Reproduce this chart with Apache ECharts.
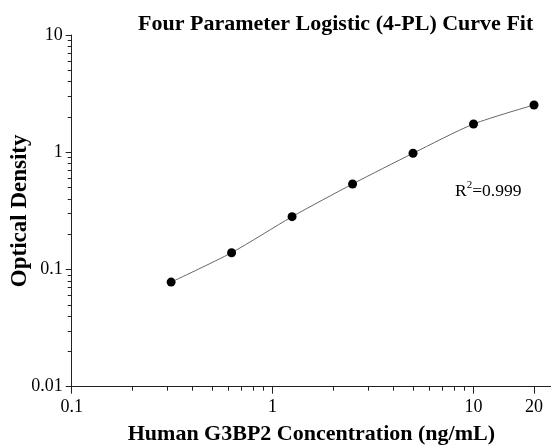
<!DOCTYPE html>
<html>
<head>
<meta charset="utf-8">
<script src="https://cdn.jsdelivr.net/npm/echarts@6/dist/echarts.min.js"></script>
<style>html,body{margin:0;padding:0;background:#fff}#c{width:551px;height:445px}</style>
</head>
<body>
<div id="c"></div>
<script>
var concentrations = [0.3125, 0.625, 1.25, 2.5, 5, 10, 20];
var opticalDensity = [0.078, 0.139, 0.282, 0.536, 0.98, 1.74, 2.53];
var xMajorTicks = [0.1, 1, 10, 20];
var xMinorTicks = [0.2,0.3,0.4,0.5,0.6,0.7,0.8,0.9,2,3,4,5,6,7,8,9];
var yMajorTicks = [0.01, 0.1, 1, 10];
var yMinorTicks = [0.02,0.03,0.04,0.05,0.06,0.07,0.08,0.09,0.2,0.3,0.4,0.5,0.6,0.7,0.8,0.9,2,3,4,5,6,7,8,9];

var font = 'Liberation Serif, Times New Roman, serif';
var pts = concentrations.map(function(c, i){ return [c, opticalDensity[i]]; });

var chart = echarts.init(document.getElementById('c'));
var lineCol = '#222';
chart.setOption({
  animation: false,
  title: {
    text: 'Four Parameter Logistic (4-PL) Curve Fit',
    left: 133, top: 8,
    textStyle: {fontFamily: font, fontSize: 22, fontWeight: 'bold', color: '#000'}
  },
  grid: {left: 71.7, right: 0, top: 35, bottom: 58.3, containLabel: false, outerBoundsMode: 'none'},
  xAxis: [{
    type: 'log', logBase: 10, min: 0.1, max: 24.3,
    name: 'Human G3BP2 Concentration (ng/mL)', nameLocation: 'middle', nameGap: 37,
    nameTextStyle: {fontFamily: font, fontSize: 22, fontWeight: 'bold', color: '#000'},
    axisLine: {lineStyle: {color: lineCol, width: 1}},
    axisTick: {show: true, length: 7, customValues: xMajorTicks, lineStyle: {color: lineCol}},
    axisLabel: {customValues: xMajorTicks, fontFamily: font, fontSize: 18, color: '#000', margin: 12,
      formatter: function(v){ return String(v); }},
    splitLine: {show: false}, minorTick: {show: false}
  }, {
    type: 'log', logBase: 10, min: 0.1, max: 24.3, position: 'bottom',
    axisLine: {show: false},
    axisTick: {show: true, length: 4, customValues: xMinorTicks, lineStyle: {color: lineCol}},
    axisLabel: {show: false}, splitLine: {show: false}
  }],
  yAxis: [{
    type: 'log', logBase: 10, min: 0.01, max: 10,
    name: 'Optical Density', nameLocation: 'middle', nameGap: 40, nameMoveOverlap: false,
    nameTextStyle: {fontFamily: font, fontSize: 23, fontWeight: 'bold', color: '#000'},
    axisLine: {show: true, lineStyle: {color: lineCol, width: 1}},
    axisTick: {show: true, length: 6, customValues: yMajorTicks, lineStyle: {color: lineCol}},
    axisLabel: {customValues: yMajorTicks, fontFamily: font, fontSize: 18, color: '#000', margin: 9,
      formatter: function(v){ return String(v); }},
    splitLine: {show: false}
  }, {
    type: 'log', logBase: 10, min: 0.01, max: 10, position: 'left',
    axisLine: {show: false},
    axisTick: {show: true, length: 4, customValues: yMinorTicks, lineStyle: {color: lineCol}},
    axisLabel: {show: false}, splitLine: {show: false}
  }],
  graphic: [{
    type: 'text', left: 455, top: 180,
    style: {
      text: '{r|R}{s|2}{r|=0.999}',
      rich: {
        r: {fontFamily: font, fontSize: 17.5, color: '#000', verticalAlign: 'bottom', lineHeight: 20},
        s: {fontFamily: font, fontSize: 11, color: '#000', verticalAlign: 'top', lineHeight: 20, padding: [0,0,9,0]}
      }
    }
  }],
  series: [{
    type: 'line', data: pts, smooth: 0.25,
    symbol: 'circle', symbolSize: 9,
    itemStyle: {color: '#000'},
    lineStyle: {color: '#666', width: 1}
  }]
});
</script>
</body>
</html>
